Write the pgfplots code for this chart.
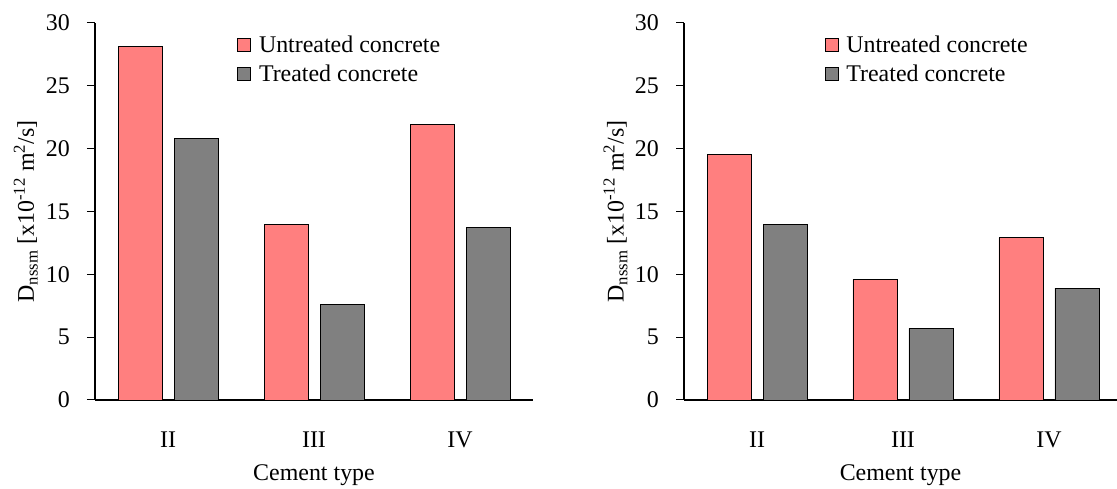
\documentclass[border=0pt]{standalone}
\usepackage{fontspec}
\setmainfont{Liberation Serif}
\usepackage{pgfplots}
\pgfplotsset{compat=1.18}

\definecolor{untreated}{HTML}{FF7F7F}
\definecolor{treated}{HTML}{808080}

\pgfplotsset{
  panel/.style={
    scale only axis,
    width=438bp, height=377bp,
    anchor=south west,
    font=\fontsize{24}{28}\selectfont,
    /pgf/number format/assume math mode=true,
    axis lines=left,
    axis line style={-, line width=1.6bp, black},
    xmin=-0.5, xmax=2.5,
    ymin=0, ymax=30,
    ytick={0,5,...,30},
    xtick={0,1,2},
    xticklabels={II,III,IV},
    x tick style={draw=none},
    y tick style={line width=1bp, black},
    tick align=outside,
    major tick length=8bp,
    yticklabel style={anchor=east, inner sep=0pt, xshift=-17bp},
    xticklabel style={anchor=center, inner sep=0pt, yshift=-32bp},
    xlabel={Cement type},
    xlabel style={at={(axis description cs:0.5,-0.2)}, anchor=center},
    ylabel={D\textsubscript{nssm} [x10\textsuperscript{-12} m\textsuperscript{2}/s]},
    ylabel style={at={(axis description cs:-0.158,0.5)}, anchor=center, rotate=0},
    ybar=12bp, bar width=44bp,
    legend cell align=left,
    legend style={draw=none, fill=none, at={(axis description cs:0.324,0.972)},
      anchor=north west, row sep=7bp, column sep=6bp, inner sep=0pt,
      font=\fontsize{24}{28}\selectfont},
    legend image code/.code={\draw[#1, line width=0.9bp] (0bp,-6.5bp) rectangle (13bp,6.5bp);},
  },
  untreatedbar/.style={fill=untreated, draw=black, line width=0.9bp},
  treatedbar/.style={fill=treated, draw=black, line width=0.9bp},
}

\begin{document}
\begin{tikzpicture}
\useasboundingbox (0,0) rectangle (1117bp,489bp);

% Left panel
\begin{axis}[panel, at={(95bp,89bp)}]
\addplot[untreatedbar] coordinates {(0,28.1) (1,14.0) (2,21.9)};
\addplot[treatedbar] coordinates {(0,20.8) (1,7.6) (2,13.7)};
\legend{Untreated concrete, Treated concrete}
\end{axis}

% Right panel
\begin{axis}[panel, at={(684bp,89bp)}, width=433bp, xmax=2.466]
\addplot[untreatedbar] coordinates {(0,19.5) (1,9.6) (2,12.9)};
\addplot[treatedbar] coordinates {(0,14.0) (1,5.7) (2,8.9)};
\legend{Untreated concrete, Treated concrete}
\end{axis}
\end{tikzpicture}
\end{document}
